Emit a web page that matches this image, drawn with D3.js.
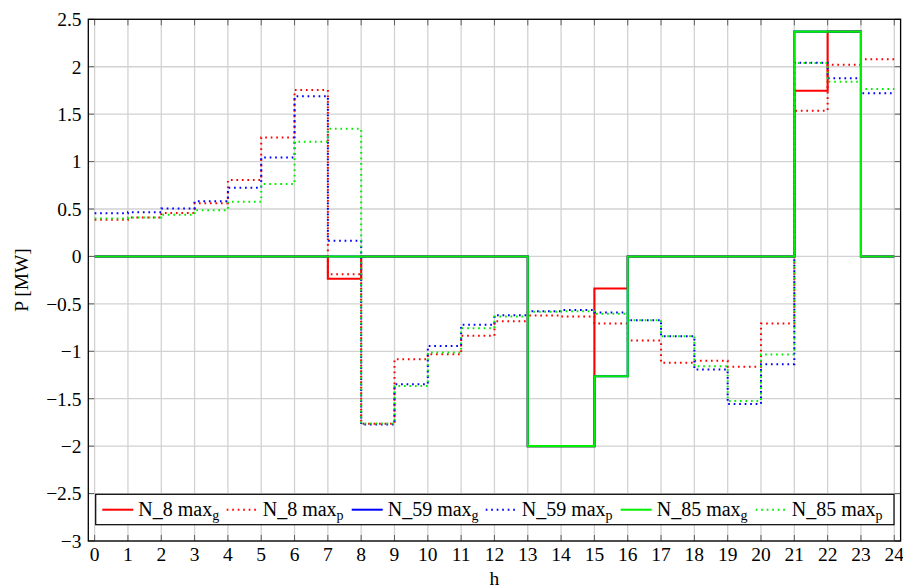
<!DOCTYPE html>
<html>
<head>
<meta charset="utf-8">
<script src="https://cdn.jsdelivr.net/npm/d3@7"></script>
<style>
  html, body { margin: 0; padding: 0; background: #fff; }
  svg { display: block; }
</style>
</head>
<body>
<svg id="chart" width="903" height="588" font-family="'Liberation Serif', 'DejaVu Serif', serif"></svg>
<script>
// Hours of the day (start of each step interval)
const hours = d3.range(0, 24);

// Power per hour [MW] for each node: max_g (solid) and max_p (dotted)
const n8MaxG  = [0, 0, 0, 0, 0, 0, 0, -0.236, 0, 0, 0, 0, 0, -2, -2, -0.338, 0, 0, 0, 0, 0, 1.747, 2.37, 0];
const n8MaxP  = [0.386, 0.41, 0.457, 0.562, 0.805, 1.255, 1.754, -0.187, -1.765, -1.083, -1.031, -0.837,
                 -0.683, -0.623, -0.633, -0.707, -0.886, -1.122, -1.101, -1.164, -0.707, 1.536, 2.021, 2.078];
const n59MaxG = [0, 0, 0, 0, 0, 0, 0, 0, 0, 0, 0, 0, 0, -2, -2, -1.263, 0, 0, 0, 0, 0, 2.37, 2.37, 0];
const n59MaxP = [0.454, 0.467, 0.506, 0.583, 0.724, 1.044, 1.688, 0.165, -1.772, -1.347, -0.943, -0.721,
                 -0.619, -0.577, -0.566, -0.591, -0.672, -0.841, -1.192, -1.555, -1.136, 2.042, 1.878, 1.72];
const n85MaxG = [0, 0, 0, 0, 0, 0, 0, 0, 0, 0, 0, 0, 0, -2, -2, -1.263, 0, 0, 0, 0, 0, 2.37, 2.37, 0];
const n85MaxP = [0.40, 0.41, 0.44, 0.488, 0.576, 0.763, 1.209, 1.346, -1.762, -1.365, -1.013, -0.756,
                 -0.633, -0.584, -0.577, -0.605, -0.672, -0.841, -1.157, -1.523, -1.034, 2.04, 1.842, 1.765];

// Axis ticks
const xTicks = d3.range(0, 25);
const yTicks = [-3, -2.5, -2, -1.5, -1, -0.5, 0, 0.5, 1, 1.5, 2, 2.5];

// Legend entries: name, subscript
const seriesNames = ["N_8", "N_8", "N_59", "N_59", "N_85", "N_85"];
const seriesSubs  = ["g", "p", "g", "p", "g", "p"];

const seriesList = [
  { values: n8MaxG,  color: "#ff0000", dotted: false },
  { values: n8MaxP,  color: "#ff0000", dotted: true },
  { values: n59MaxG, color: "#0000ff", dotted: false },
  { values: n59MaxP, color: "#0000ff", dotted: true },
  { values: n85MaxG, color: "#00ee00", dotted: false },
  { values: n85MaxP, color: "#00ee00", dotted: true }
];

const svg = d3.select("#chart");

const plotLeft = 88.3, plotRight = 900.6, plotTop = 19.3, plotBottom = 541;
const x = d3.scaleLinear().domain([-0.19, 24.19]).range([plotLeft, plotRight]);
const y = d3.scaleLinear().domain([-3, 2.5]).range([plotBottom, plotTop]);

// Grid
const grid = svg.append("g");
grid.selectAll("line.vx").data(xTicks).join("line")
  .attr("x1", d => x(d)).attr("x2", d => x(d))
  .attr("y1", plotTop).attr("y2", plotBottom)
  .attr("stroke", "#d2d2d2").attr("stroke-width", 1.3);
grid.selectAll("line.hy").data(yTicks).join("line")
  .attr("x1", plotLeft).attr("x2", plotRight)
  .attr("y1", d => y(d)).attr("y2", d => y(d))
  .attr("stroke", "#d2d2d2").attr("stroke-width", 1.3);

// Inner tick marks on all four sides
const tickLen = 6;
const ticks = svg.append("g").attr("stroke", "#606060").attr("stroke-width", 1);
xTicks.forEach(t => {
  ticks.append("line").attr("x1", x(t)).attr("x2", x(t)).attr("y1", plotBottom).attr("y2", plotBottom - tickLen);
  ticks.append("line").attr("x1", x(t)).attr("x2", x(t)).attr("y1", plotTop).attr("y2", plotTop + tickLen);
});
yTicks.forEach(t => {
  ticks.append("line").attr("x1", plotLeft).attr("x2", plotLeft + tickLen).attr("y1", y(t)).attr("y2", y(t));
  ticks.append("line").attr("x1", plotRight).attr("x2", plotRight - tickLen).attr("y1", y(t)).attr("y2", y(t));
});

// Step lines
const line = d3.line()
  .x(d => x(d[0]))
  .y(d => y(d[1]))
  .curve(d3.curveStepAfter);

const plot = svg.append("g");
seriesList.forEach(s => {
  const pts = hours.map(h => [h, s.values[h]]);
  pts.push([24, s.values[23]]);
  plot.append("path")
    .datum(pts)
    .attr("d", line)
    .attr("fill", "none")
    .attr("stroke", s.color)
    .attr("stroke-width", s.dotted ? 2 : 2.1)
    .attr("stroke-dasharray", s.dotted ? "1.7,3.8" : null)
    .attr("stroke-linejoin", "miter");
});

// Frame
svg.append("rect")
  .attr("x", plotLeft).attr("y", plotTop)
  .attr("width", plotRight - plotLeft).attr("height", plotBottom - plotTop)
  .attr("fill", "none").attr("stroke", "#000").attr("stroke-width", 1.3);

// Tick labels
const fmt = d => (d < 0 ? "\u2212" : "") + String(Math.abs(d));
svg.append("g").selectAll("text").data(yTicks).join("text")
  .attr("x", 81.5).attr("y", d => y(d) + 6.8)
  .attr("text-anchor", "end")
  .attr("font-size", 19.5)
  .text(fmt);
svg.append("g").selectAll("text").data(xTicks).join("text")
  .attr("x", d => x(d)).attr("y", 561)
  .attr("text-anchor", "middle")
  .attr("font-size", 19.5)
  .text(d => String(d));

// Axis titles
svg.append("text")
  .attr("x", (plotLeft + plotRight) / 2).attr("y", 585)
  .attr("text-anchor", "middle").attr("font-size", 19.5)
  .text("h");
svg.append("text")
  .attr("transform", "translate(28,280) rotate(-90)")
  .attr("text-anchor", "middle").attr("font-size", 19.5)
  .text("P [MW]");

// Legend
const legend = svg.append("g");
legend.append("rect")
  .attr("x", 95.7).attr("y", 494.3)
  .attr("width", 894 - 95.7).attr("height", 524.7 - 494.3)
  .attr("fill", "#fff").attr("stroke", "#000").attr("stroke-width", 1.2);
const sampleX = [102.3, 226.7, 351.7, 485.7, 620.7, 755.7];
seriesList.forEach((s, i) => {
  const x0 = sampleX[i];
  legend.append("line")
    .attr("x1", x0).attr("x2", x0 + 31)
    .attr("y1", 509.7).attr("y2", 509.7)
    .attr("stroke", s.color).attr("stroke-width", 2)
    .attr("stroke-dasharray", s.dotted ? "1.7,3.8" : null);
  const t = legend.append("text")
    .attr("x", x0 + 36).attr("y", 515.5)
    .attr("font-size", 20);
  t.append("tspan").text(seriesNames[i] + " max");
  t.append("tspan").attr("dy", 4).attr("font-size", 14).text(seriesSubs[i]);
});
</script>
</body>
</html>
